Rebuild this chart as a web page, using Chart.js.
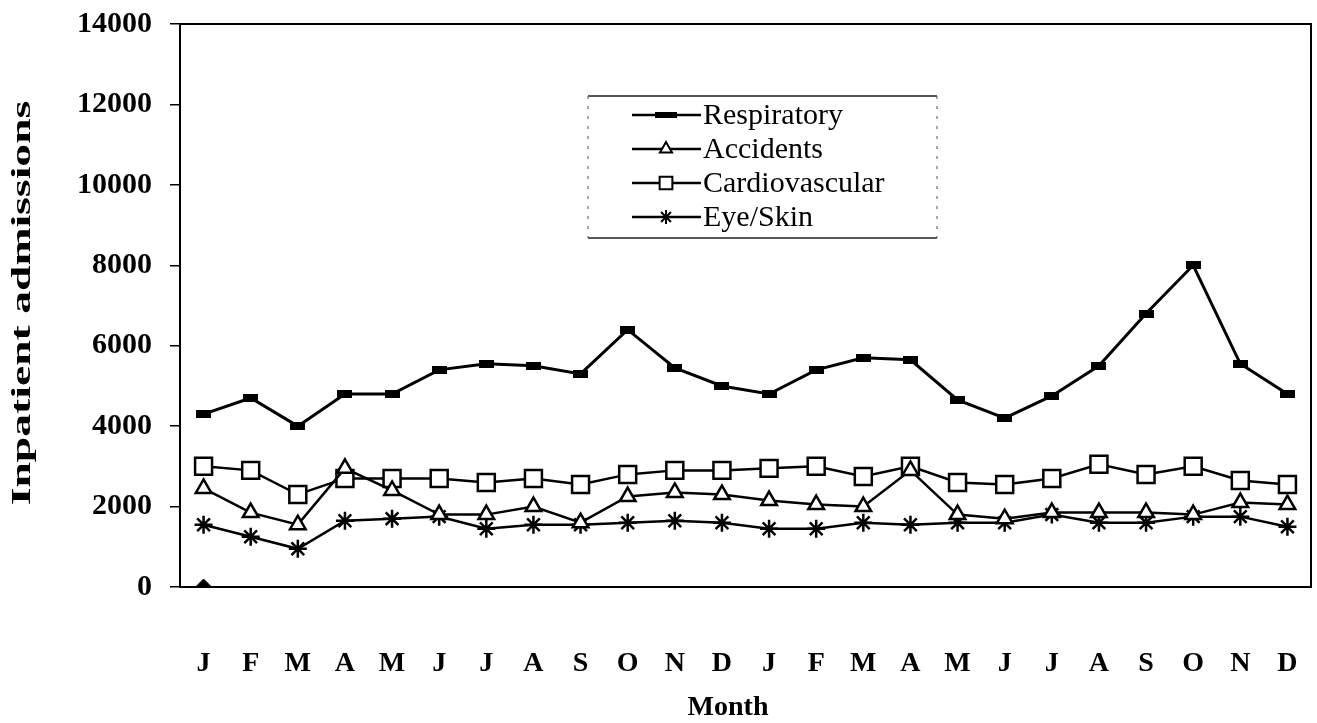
<!DOCTYPE html>
<html>
<head>
<meta charset="utf-8">
<script src="https://cdn.jsdelivr.net/npm/chart.js@4.4.1/dist/chart.umd.min.js"></script>
<style>
  body { margin: 0; background: #fff; }
</style>
</head>
<body>
<canvas id="chart_admissions" width="1317" height="723"></canvas>
<script>
// two years of monthly data
const months = ["J", "F", "M", "A", "M", "J", "J", "A", "S", "O", "N", "D",
                "J", "F", "M", "A", "M", "J", "J", "A", "S", "O", "N", "D"];
const seriesNames = ["Respiratory", "Accidents", "Cardiovascular", "Eye/Skin"];

const respiratory = [4300, 4700, 4000, 4800, 4800, 5400, 5550, 5500, 5300, 6400, 5450, 5000,
                     4800, 5400, 5700, 5650, 4650, 4200, 4750, 5500, 6800, 8000, 5550, 4800];
const accidents = [2450, 1850, 1550, 2950, 2400, 1800, 1800, 2000, 1600, 2250, 2350, 2300,
                   2150, 2050, 2000, 2900, 1800, 1700, 1850, 1850, 1850, 1800, 2100, 2050];
const cardiovascular = [3000, 2900, 2300, 2700, 2700, 2700, 2600, 2700, 2550, 2800, 2900, 2900,
                        2950, 3000, 2750, 3000, 2600, 2550, 2700, 3050, 2800, 3000, 2650, 2550];
const eyeSkin = [1550, 1250, 950, 1650, 1700, 1750, 1450, 1550, 1550, 1600, 1650, 1600,
                 1450, 1450, 1600, 1550, 1600, 1600, 1800, 1600, 1600, 1750, 1750, 1500];
// stray diamond marker sitting on the origin
const originMark = [0];

const yTicks = { min: 0, max: 14000, step: 2000 };
const yTitle = "Inpatient admissions";
const xTitle = "Month";

function barMarker(w, h) {
  const c = document.createElement("canvas");
  c.width = w;
  c.height = h;
  const g = c.getContext("2d");
  g.fillStyle = "#000";
  g.fillRect(0, 0, w, h);
  return c;
}

const respMarker = barMarker(15, 8);
const respLegendMarker = barMarker(22, 6);

const styles = [
  { pointStyle: respMarker, radius: 7, bg: "#000", lw: 3 },
  { pointStyle: "triangle", radius: 9, bg: "#fff", lw: 2.5 },
  { pointStyle: "rect", radius: 12, bg: "#fff", lw: 2.5 },
  { pointStyle: "star", radius: 9, bg: "#000", lw: 2.5 },
];

const seriesData = [respiratory, accidents, cardiovascular, eyeSkin];

const datasets = seriesData.map((d, i) => ({
  label: seriesNames[i],
  data: d,
  borderColor: "#000",
  backgroundColor: styles[i].bg,
  borderWidth: styles[i].lw,
  pointStyle: styles[i].pointStyle,
  pointRadius: styles[i].radius,
  pointBorderWidth: 2.5,
  pointBorderColor: "#000",
  pointBackgroundColor: styles[i].bg,
  tension: 0,
  fill: false,
}));

datasets.push({
  label: "",
  data: originMark,
  showLine: false,
  pointStyle: "rectRot",
  pointRadius: 8,
  pointBackgroundColor: "#000",
  pointBorderColor: "#000",
  pointBorderWidth: 1,
});

// box around plot area + axis titles
const framePlugin = {
  id: "frame",
  afterDraw(chart) {
    const a = chart.chartArea;
    const ctx = chart.ctx;
    ctx.save();
    ctx.strokeStyle = "#000";
    ctx.lineWidth = 2;
    ctx.strokeRect(a.left, a.top, a.right - a.left, a.bottom - a.top);

    ctx.fillStyle = "#000";
    ctx.textAlign = "center";
    ctx.textBaseline = "middle";
    ctx.font = "bold 28px 'Liberation Serif'";
    ctx.fillText(xTitle, 728, 708);

    ctx.translate(23, 303);
    ctx.rotate(-Math.PI / 2);
    ctx.scale(1.63, 1);
    ctx.fillText(yTitle, 0, 0);
    ctx.restore();
  },
};

// legend box drawn inside the plot
const legendPlugin = {
  id: "boxLegend",
  afterDraw(chart) {
    const ctx = chart.ctx;
    const x0 = 588, y0 = 96, x1 = 937, y1 = 238;
    ctx.save();
    ctx.strokeStyle = "#222";
    ctx.lineWidth = 1.5;
    ctx.beginPath();
    ctx.moveTo(x0, y0); ctx.lineTo(x1, y0);
    ctx.moveTo(x0, y1); ctx.lineTo(x1, y1);
    ctx.stroke();
    ctx.setLineDash([3, 7]);
    ctx.lineWidth = 1;
    ctx.strokeStyle = "#555";
    ctx.beginPath();
    ctx.moveTo(x0, y0); ctx.lineTo(x0, y1);
    ctx.moveTo(x1, y0); ctx.lineTo(x1, y1);
    ctx.stroke();
    ctx.setLineDash([]);

    const rows = [115, 149, 183, 217];
    ctx.font = "30px 'Liberation Serif'";
    ctx.textBaseline = "middle";
    ctx.textAlign = "left";
    seriesNames.forEach((name, i) => {
      const y = rows[i];
      ctx.strokeStyle = "#000";
      ctx.lineWidth = 2.5;
      ctx.beginPath();
      ctx.moveTo(632, y);
      ctx.lineTo(701, y);
      ctx.stroke();
      ctx.fillStyle = styles[i].bg;
      ctx.lineWidth = 2;
      Chart.helpers.drawPoint(ctx, {
        pointStyle: i === 0 ? respLegendMarker : styles[i].pointStyle,
        radius: i === 2 ? 9 : 7,
        rotation: 0,
        borderWidth: 2,
      }, 666, y);
      ctx.fillStyle = "#000";
      ctx.fillText(name, 703, y + 1);
    });
    ctx.restore();
  },
};

const ctx = document.getElementById("chart_admissions").getContext("2d");

const admissionsChart = new Chart(ctx, {
  type: "line",
  data: {
    labels: months,
    datasets: datasets,
  },
  plugins: [framePlugin, legendPlugin],
  options: {
    responsive: false,
    animation: false,
    layout: {
      autoPadding: false,
      padding: { top: 24, right: 6, left: 0, bottom: 0 },
    },
    plugins: {
      legend: { display: false },
      tooltip: { enabled: false },
    },
    scales: {
      x: {
        offset: true,
        grid: {
          display: true,
          drawOnChartArea: false,
          drawTicks: true,
          tickLength: 60,
          color: "rgba(0,0,0,0)",
        },
        border: { display: false },
        ticks: {
          color: "#000",
          padding: 0,
          maxRotation: 0,
          autoSkip: false,
          font: { family: "'Liberation Serif'", size: 28, weight: "bold" },
        },
        afterFit(scale) {
          scale.height = 136;
          scale.paddingLeft = 0;
          scale.paddingRight = 0;
        },
      },
      y: {
        min: yTicks.min,
        max: yTicks.max,
        grid: {
          drawOnChartArea: false,
          drawTicks: true,
          tickLength: 10,
          color: "#000",
          lineWidth: 1.5,
        },
        border: { display: false },
        ticks: {
          stepSize: yTicks.step,
          color: "#000",
          padding: 18,
          font: { family: "'Liberation Serif'", size: 30, weight: "bold" },
          callback: (v) => String(v),
        },
        afterFit(scale) {
          scale.width = 180;
          scale.paddingTop = 0;
          scale.paddingBottom = 0;
        },
      },
    },
  },
});
</script>
</body>
</html>
